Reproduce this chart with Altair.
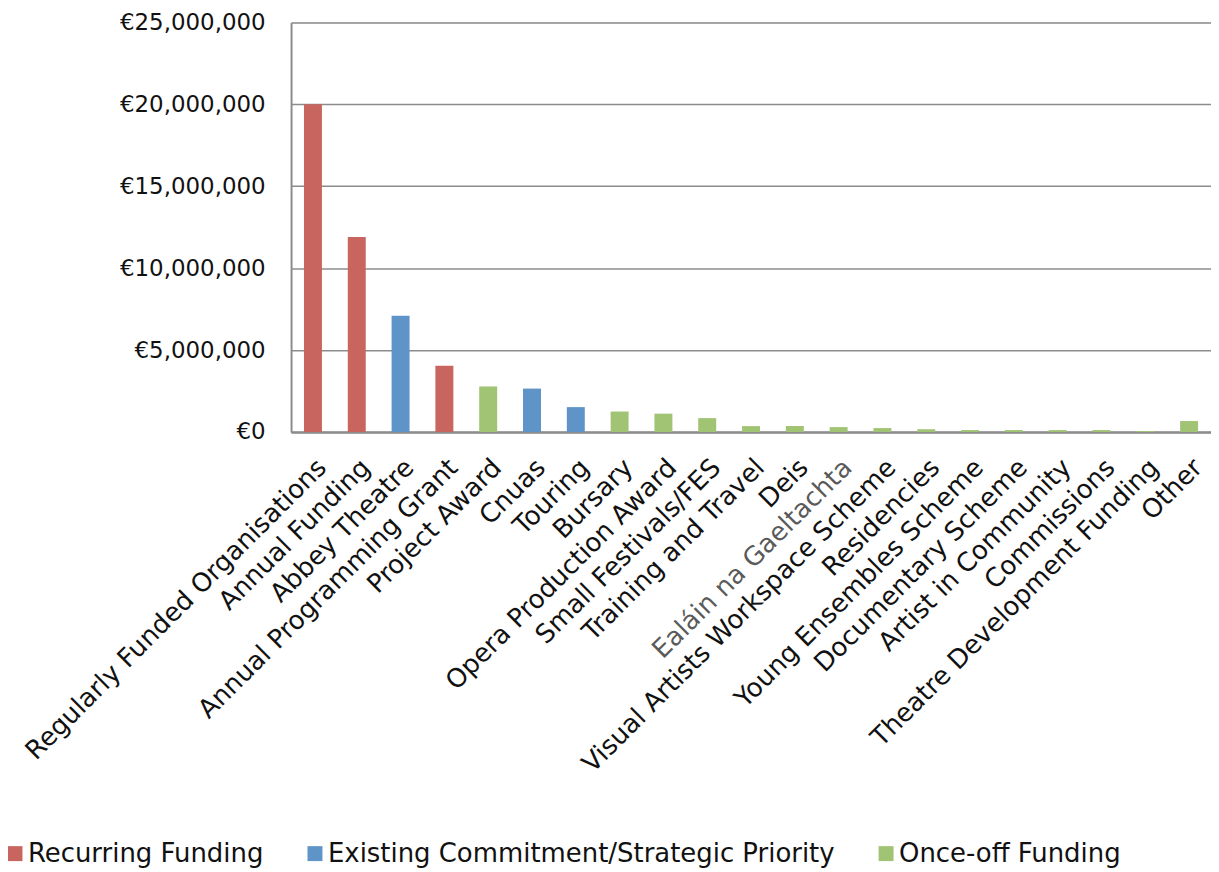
import altair as alt
import pandas as pd

categories = [
    "Regularly Funded Organisations", "Annual Funding", "Abbey Theatre",
    "Annual Programming Grant", "Project Award", "Cnuas", "Touring", "Bursary",
    "Opera Production Award", "Small Festivals/FES", "Training and Travel", "Deis",
    "Ealáin na Gaeltachta", "Visual Artists Workspace Scheme", "Residencies",
    "Young Ensembles Scheme", "Documentary Scheme", "Artist in Community",
    "Commissions", "Theatre Development Funding", "Other",
]
amounts = [
    20000000, 11900000, 7100000, 4050000, 2780000, 2650000, 1520000, 1250000,
    1120000, 850000, 360000, 360000, 300000, 240000, 170000, 120000, 120000,
    120000, 120000, 60000, 670000,
]
type_names = ["Recurring Funding", "Existing Commitment/Strategic Priority", "Once-off Funding"]
types = [
    type_names[0], type_names[0], type_names[1], type_names[0], type_names[2],
    type_names[1], type_names[1], type_names[2], type_names[2], type_names[2],
    type_names[2], type_names[2], type_names[2], type_names[2], type_names[2],
    type_names[2], type_names[2], type_names[2], type_names[2], type_names[2],
    type_names[2],
]
type_colors = ["#C9655F", "#5F94C8", "#A0C374"]
y_ticks = [0, 5000000, 10000000, 15000000, 20000000, 25000000]

df = pd.DataFrame({"Scheme": categories, "Amount": amounts, "Type": types})

FONT = "DejaVu Sans"

chart = alt.Chart(df).mark_bar().encode(
    x=alt.X(
        "Scheme:N", sort=categories, title=None,
        scale=alt.Scale(paddingInner=0.59, paddingOuter=0.295),
        axis=alt.Axis(
            labelAngle=-45, labelAlign="right", labelBaseline="top",
            labelLimit=700, labelFont=FONT, labelFontSize=26, labelPadding=22,
            ticks=False, domainColor="#8c8c8c", domainWidth=2.5,
            labelColor={"condition": {"test": "datum.value == 'Ealáin na Gaeltachta'", "value": "#5a5a5a"}, "value": "#111111"},
        ),
    ),
    y=alt.Y(
        "Amount:Q", title=None,
        scale=alt.Scale(domain=[0, 25000000], nice=False),
        axis=alt.Axis(
            values=y_ticks, labelExpr="'€' + format(datum.value, ',')",
            labelFont=FONT, labelFontSize=23, labelPadding=26, labelColor="#111111",
            ticks=False, gridColor="#8c8c8c", gridWidth=1.5,
            domainColor="#8c8c8c", domainWidth=2,
        ),
    ),
    color=alt.Color(
        "Type:N",
        scale=alt.Scale(domain=type_names, range=type_colors),
        legend=alt.Legend(
            title=None, orient="none", legendX=-290, legendY=821,
            direction="horizontal", symbolType="square", symbolSize=225,
            symbolStrokeWidth=0, symbolOpacity=1,
            labelFont=FONT, labelFontSize=26, labelColor="#111111",
            labelOffset=0, columnPadding=38, labelLimit=700,
        ),
    ),
).properties(
    width=923, height=411, autosize="none",
    padding={"left": 284, "top": 13, "right": 0, "bottom": 438},
).configure_view(stroke=None).configure(font=FONT)

chart.save("out.html", embed_options={"renderer": "svg", "actions": False})
